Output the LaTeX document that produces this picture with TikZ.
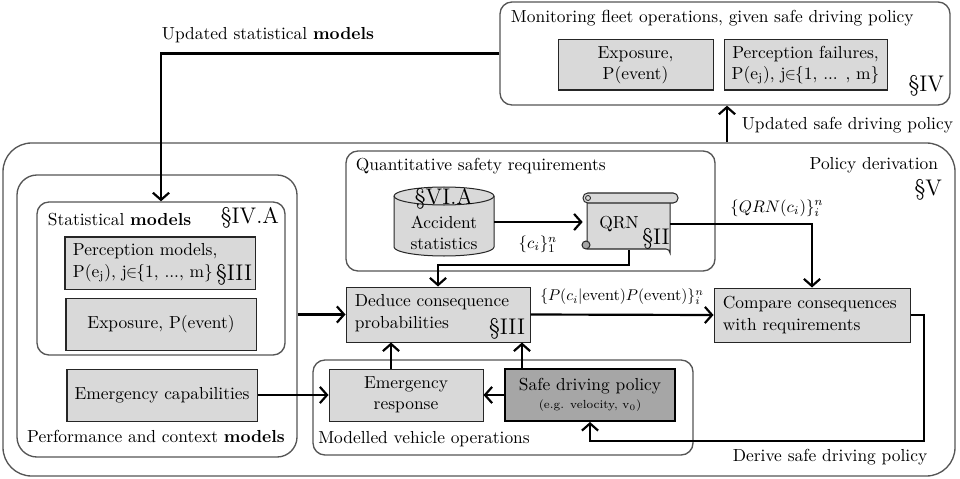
\documentclass[tikz,border=0pt]{standalone}
\usepackage{amsmath,amssymb}
\usepackage{tikz}
\usetikzlibrary{fit,calc,arrows.meta}
\definecolor{boxgray}{RGB}{217,217,217}
\definecolor{policygray}{RGB}{166,166,166}
\definecolor{framegray}{RGB}{85,85,85}
\newcommand{\pxu}{0.021cm}
\newcommand{\secsize}{\fontsize{13.5}{15}\selectfont}
\tikzstyle{frame}=[draw=framegray, line width=0.8pt, rounded corners=0.25cm, inner sep=0pt]
\tikzstyle{gbox}=[draw=black!85, line width=0.6pt, fill=boxgray, inner sep=0pt, align=center]
\tikzstyle{shapeline}=[draw=black!85, line width=0.6pt]
\tikzstyle{arr}=[line width=1.3pt, -{Straight Barb[length=1.5mm,width=3.4mm]}]
\tikzstyle{sec}=[font=\secsize, inner sep=1pt]

\begin{document}
\begin{tikzpicture}[x=\pxu, y=-\pxu, font=\fontsize{10.4}{12.8}\selectfont]
\useasboundingbox (0,0) rectangle (960,478);
% frames
\node[frame, fit={(500,2) (950,105)}] (fleet) {};
\node[frame, rounded corners=0.6cm, fit={(3,143) (955,476)}] (outer) {};
\node[frame, rounded corners=0.42cm, fit={(17,175) (297,457)}] (perf) {};
\node[frame, fit={(37,202) (285,355)}] (stat) {};
\node[frame, fit={(346,151) (715,271)}] (quant) {};
\node[frame, fit={(313,360) (693,455)}] (modv) {};
% frame titles
\node[anchor=west] (fleettitle) at (505,18) {Monitoring fleet operations, given safe driving policy};
\node[sec, anchor=east] (secIV) at (946,86) {\S IV};
\node (updstat) at (268,35) {Updated statistical \textbf{models}};
\node[anchor=west] (updpol) at (736,125) {Updated safe driving policy};
\node[anchor=east] (poltitle) at (944,165) {Policy derivation};
\node[sec, anchor=east] (secV) at (944,190) {\S V};
\node (perftitle) at (156,436) {Performance and context \textbf{models}};
\node[anchor=west] (stattitle) at (42,220) {Statistical \textbf{models}};
\node[sec, anchor=east] (secIVA) at (281,218) {\S IV.A};
\node[anchor=west] (quanttitle) at (350,166) {Quantitative safety requirements};
\node (modvtitle) at (424,439) {Modelled vehicle operations};
\node (derive) at (830,457) {Derive safe driving policy};
% fleet monitoring boxes
\node[gbox, minimum width=155*\pxu, minimum height=50*\pxu] (fexpo) at (635.5,65) {Exposure,\\P(event)};
\node[gbox, minimum width=163*\pxu, minimum height=50*\pxu] (fperc) at (805.5,65)
  {Perception failures,\\P(e$_\mathrm{j}$), j{\kern-0.5pt}$\in${\kern-0.5pt}\{1, ... , m\}};
% statistical models
\node[gbox, fit={(65,237) (255,289)}] (percm) {};
\node[anchor=west, align=left] (percmtxt) at (67,263) {Perception models,\\P(e$_\mathrm{j}$), j{\kern-0.5pt}$\in${\kern-0.5pt}\{1, ..., m\}};
\node[sec, anchor=east] (secIIIa) at (254,275) {\S III};
\node[gbox, minimum width=190*\pxu, minimum height=52*\pxu] (sexpo) at (161,324) {Exposure, P(event)};
\node[gbox, minimum width=190*\pxu, minimum height=52*\pxu] (emcap) at (162,395) {Emergency capabilities};
% quantitative safety requirements
\draw[shapeline, fill=boxgray] (394,196) -- (394,247) arc (180:0:50 and 9) -- (494,196) arc (0:-180:50 and 9) -- cycle;
\draw[shapeline] (394,196) arc (180:0:50 and 9);
\node[fit={(394,187) (494,256)}, inner sep=0pt] (accstat) {};
\node[sec] (secVIA) at (444,199) {\S VI.A};
\node[align=center] (acctxt) at (444,233) {Accident\\statistics};
\draw[shapeline, fill=boxgray] (587,198) -- (587,249) -- (666,249) arc (-90:0:4) -- (670,198);
\draw[shapeline, fill=boxgray, rounded corners=0.1cm] (583,193) rectangle (678,203);
\draw[shapeline, line width=0.5pt] (588,198) circle (2.5*\pxu);
\draw[shapeline, fill=policygray] (586,245) circle (4*\pxu);
\node[fit={(583,193) (678,250)}, inner sep=0pt] (qrn) {};
\node (qrntxt) at (619,224) {QRN};
\node[sec] (secII) at (656,239) {\S II};
% policy derivation
\node[gbox, fit={(346,287) (530,342)}] (deduce) {};
\node[anchor=west, align=left] (deducetxt) at (349,313) {Deduce consequence\\probabilities};
\node[sec, anchor=east] (secIIIb) at (527,329) {\S III};
\node[gbox, fit={(714,288) (910,342)}] (compare) {};
\node[anchor=west, align=left] (comparetxt) at (717,315) {Compare consequences\\with requirements};
\node[gbox, minimum width=154*\pxu, minimum height=52*\pxu] (emresp) at (406,395) {Emergency\\response};
\node[gbox, fill=policygray, draw=black, line width=1.2pt, minimum width=170*\pxu, minimum height=52*\pxu] (policy)
  at (590,395) {Safe driving policy\\[-2pt]{\scriptsize (e.g. velocity, v$_0$)}};
% connectors
\coordinate (updx) at (727,0);
\coordinate (erx) at (391,0);
\coordinate (polx) at (522,0);
\coordinate (derivecorner) at (924,441);
\draw[arr] (fleet.west) -| (stat.north);
\draw[arr] (outer.north -| updx) -- (fleet.south -| updx);
\draw[arr] (perf.east |- deduce.west) -- (deduce.west);
\draw[arr] (accstat.east |- 0,222) -- (qrn.west |- 0,222);
\draw[arr] (qrn.south -| 629,0) |- (438,265) -- (deduce.north);
\node[inner sep=1pt] (ci) at (538,244) {$\{c_i\}_1^n$};
\draw[arr] (670,224) -| (compare.north);
\node[inner sep=1pt] (qrnci) at (777,208) {$\{QRN(c_i)\}_i^n$};
\draw[arr] (deduce.east) -- (compare.west);
\node[inner sep=1pt, scale=0.93] (pci) at (622,297) {$\{P(c_i|\text{event})P(\text{event})\}_i^n$};
\draw[arr] (compare.east) -| (derivecorner) -| (policy.south);
\draw[arr] (policy.west) -- (emresp.east);
\draw[arr] (emcap.east) -- (emresp.west);
\draw[arr] (emresp.north -| erx) -- (deduce.south -| erx);
\draw[arr] (policy.north -| polx) -- (deduce.south -| polx);
\end{tikzpicture}
\end{document}
